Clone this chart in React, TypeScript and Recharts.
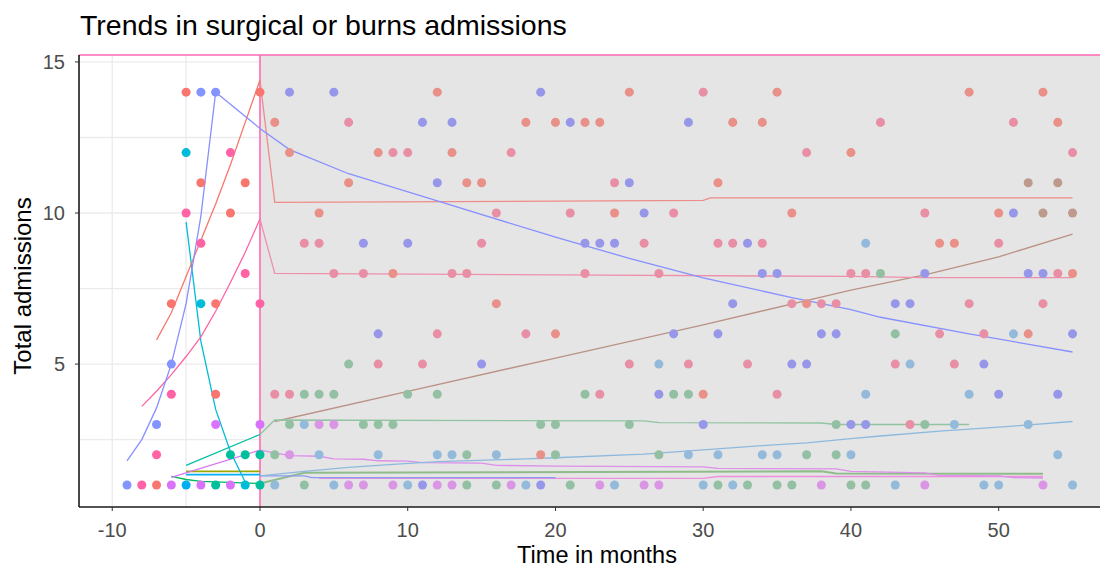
import React from 'react';
import {
  ComposedChart,
  Line,
  Scatter,
  XAxis,
  YAxis,
  ReferenceArea,
  ReferenceLine,
} from 'recharts';

type Pt = [number, number];

const X_MIN = -12.25;
const X_MAX = 57.4;
const Y_MIN = 0.27;
const Y_MAX = 15.23;

const X_TICKS = [-10, 0, 10, 20, 30, 40, 50];
const Y_TICKS = [5, 10, 15];
const GRID_X = [-10, -5];
const GRID_Y = [2.5, 5, 7.5, 10, 12.5, 15];

// ---- points before the intervention (x <= 0) ----
const PRE_SALMON: Pt[] = [[-7, 1], [-6, 7], [-5, 14], [-4, 11], [-3, 7], [-3, 4], [-2, 10], [-1, 11], [0, 14]];
const PRE_BLUE: Pt[] = [[-9, 1], [-7, 3], [-6, 5], [-4, 14], [-3, 14]];
const PRE_PINK: Pt[] = [[-8, 1], [-7, 2], [-6, 4], [-5, 10], [-4, 9], [-2, 12], [-1, 8], [0, 7]];
const PRE_VIOLET: Pt[] = [[-6, 1], [-4, 1], [-3, 3], [-2, 1], [0, 3]];
const PRE_CYAN: Pt[] = [[-5, 12], [-4, 7], [-1, 1]];
const PRE_SKY: Pt[] = [[-5, 1]];
const PRE_TEAL: Pt[] = [[-3, 1], [-2, 2], [-1, 2], [0, 2], [0, 1]];

// ---- points after ----
const POST_SALMON: Pt[] = [
  [12, 14], [25, 14], [35, 14], [48, 14], [53, 14],
  [1, 13], [18, 13], [20, 13], [22, 13], [23, 13], [32, 13], [34, 13], [54, 13],
  [2, 12], [8, 12], [13, 12], [40, 12],
  [6, 11], [14, 11], [15, 11], [31, 11],
  [4, 10], [24, 10], [36, 10], [50, 10],
  [46, 9], [47, 9], [9, 8], [55, 8], [16, 7], [37, 7], [20, 6], [52, 6], [30, 4], [19, 2],
];
const POST_PINK: Pt[] = [
  [30, 14], [6, 13], [42, 13], [51, 13],
  [9, 12], [10, 12], [17, 12], [37, 12], [55, 12], [24, 11],
  [16, 10], [21, 10], [28, 10], [45, 10],
  [3, 9], [4, 9], [15, 9], [26, 9], [31, 9], [32, 9], [34, 9], [50, 9],
  [5, 8], [7, 8], [13, 8], [14, 8], [22, 8], [27, 8], [40, 8], [41, 8], [54, 8],
  [36, 7], [38, 7], [39, 7], [48, 7], [53, 7],
  [12, 6], [18, 6], [46, 6], [49, 6],
  [8, 5], [11, 5], [25, 5], [29, 5], [33, 5], [43, 5], [47, 5],
  [1, 4], [2, 4], [23, 4], [35, 4], [44, 3],
];
const POST_BLUE: Pt[] = [
  [2, 14], [5, 14], [19, 14], [11, 13], [13, 13], [21, 13], [29, 13],
  [12, 11], [25, 11], [26, 10], [51, 10],
  [7, 9], [10, 9], [22, 9], [23, 9], [24, 9], [33, 9],
  [34, 8], [35, 8], [45, 8], [52, 8], [53, 8],
  [32, 7], [43, 7], [44, 7],
  [8, 6], [28, 6], [31, 6], [38, 6], [39, 6], [55, 6],
  [15, 5], [36, 5], [37, 5], [49, 5], [27, 4], [50, 4], [54, 4],
  [30, 3], [40, 3], [41, 3], [11, 1], [19, 1],
];
const POST_GREEN: Pt[] = [
  [42, 8], [43, 6], [6, 5],
  [3, 4], [4, 4], [5, 4], [10, 4], [12, 4], [22, 4], [28, 4], [29, 4],
  [2, 3], [7, 3], [8, 3], [9, 3], [19, 3], [20, 3], [25, 3], [39, 3], [45, 3],
  [1, 2], [14, 2], [20, 2], [27, 2], [37, 2], [39, 2],
  [3, 1], [14, 1], [16, 1], [21, 1], [31, 1], [33, 1], [35, 1], [36, 1], [40, 1], [41, 1],
];
const POST_LIGHTBLUE: Pt[] = [
  [41, 9], [51, 6], [27, 5], [44, 5], [41, 4], [48, 4], [3, 3], [47, 3], [52, 3],
  [4, 2], [8, 2], [12, 2], [13, 2], [16, 2], [29, 2], [31, 2], [34, 2], [35, 2], [40, 2], [54, 2],
  [1, 1], [5, 1], [10, 1], [18, 1], [24, 1], [30, 1], [32, 1], [43, 1], [49, 1], [50, 1], [55, 1],
];
const POST_VIOLET: Pt[] = [
  [4, 3], [5, 3], [2, 2],
  [6, 1], [7, 1], [9, 1], [12, 1], [13, 1], [17, 1], [23, 1], [26, 1], [27, 1], [38, 1], [45, 1], [53, 1],
];
const POST_BROWN: Pt[] = [[52, 11], [54, 11], [53, 10], [55, 10]];

// ---- fitted trend lines ----
const BLUE_LINE: Pt[] = [[-9, 1.8], [-8, 2.5], [-7, 3.55], [-6, 5.0], [-5, 7.0], [-4, 9.9], [-3, 14.0], [0, 12.8], [2, 12.1], [6, 11.3], [12, 10.4], [20, 9.2], [25, 8.5], [30, 7.85], [36, 7.2], [40, 6.8], [42, 6.55], [48, 6.0], [55, 5.4]];
const SALMON_PRE_LINE: Pt[] = [[-7, 5.8], [-6, 6.7], [-5, 7.9], [-4, 9.1], [-3, 10.3], [-2, 11.6], [-1, 13.0], [0, 14.4]];
const SALMON_POST_LINE: Pt[] = [[0, 14.4], [1, 10.35], [30, 10.42], [30.5, 10.5], [55, 10.5]];
const PINK_PRE_LINE: Pt[] = [[-8, 3.6], [-7, 4.1], [-6, 4.65], [-5, 5.25], [-4, 5.9], [-3, 6.75], [-2, 7.7], [-1, 8.7], [0, 9.8]];
const PINK_POST_LINE: Pt[] = [[0, 9.8], [1, 8.0], [20, 7.95], [40, 7.9], [45, 7.86], [55, 7.86]];
const CYAN_LINE: Pt[] = [[-5, 9.7], [-4, 5.75], [-3, 3.5], [-2, 2.1], [-1, 1.1]];
const TEAL_LINE: Pt[] = [[-5, 1.65], [0, 2.67]];
const GREEN_POST_LINE: Pt[] = [[0, 2.67], [1, 3.15], [26, 3.12], [27, 3.06], [38, 3.05], [39, 3.0], [48, 3.0]];
const BROWN_LINE: Pt[] = [[1, 3.1], [10, 4.1], [20, 5.2], [30, 6.3], [40, 7.45], [45, 7.95], [50, 8.55], [55, 9.3]];
const LIGHTBLUE_LINE: Pt[] = [[0, 1.3], [3, 1.45], [6, 1.58], [9, 1.68], [12, 1.77], [18, 1.86], [20, 1.9], [26, 2.02], [34, 2.3], [37, 2.39], [40, 2.53], [42, 2.62], [46, 2.78], [51, 2.95], [55, 3.1]];
const VIOLET_PRE_LINE: Pt[] = [[-6, 1.25], [0, 2.15]];
const VIOLET_POST_LINE: Pt[] = [[0, 2.15], [2, 1.97], [4, 1.95], [5, 1.86], [7, 1.85], [8, 1.8], [10, 1.79], [11, 1.74], [15, 1.72], [16, 1.65], [20, 1.62], [30, 1.6], [31, 1.55], [39, 1.53], [40, 1.45], [45, 1.4], [46, 1.32], [50, 1.3], [51, 1.24], [53, 1.23]];
const OLIVE_LINE: Pt[] = [[-5, 1.45], [0, 1.45]];
const SKY_LINE: Pt[] = [[-5, 1.34], [0, 1.34]];
const GREEN_PRE_LINE: Pt[] = [[-6, 1.28], [-5, 1.18], [-4, 1.12], [0, 1.05]];
const GREEN2_POST_LINE: Pt[] = [[0, 1.05], [3, 1.4], [38, 1.45], [39, 1.38], [53, 1.37]];
const MAGENTA_LINE: Pt[] = [[4, 1.22], [30, 1.22], [31, 1.28], [53, 1.28]];
const PERI_LINE: Pt[] = [[0, 1.3], [3, 1.3], [3.5, 1.24], [20, 1.24]];

const toXY = (pts: Pt[]) => pts.map(([x, y]) => ({ x, y }));

// lines drawn first, then points on top
const LINES: { pts: Pt[]; color: string; w?: number }[] = [
  { pts: GREEN2_POST_LINE, color: '#8FBC8A', w: 2 },
  { pts: MAGENTA_LINE, color: '#EE8FE0' },
  { pts: PERI_LINE, color: '#8C9BF0' },
  { pts: VIOLET_POST_LINE, color: '#DD8FEA' },
  { pts: LIGHTBLUE_LINE, color: '#8DB9DE' },
  { pts: BROWN_LINE, color: '#BA9285' },
  { pts: GREEN_POST_LINE, color: '#92C4A2' },
  { pts: PINK_POST_LINE, color: '#EE90AA' },
  { pts: SALMON_POST_LINE, color: '#EE8C88' },
  { pts: OLIVE_LINE, color: '#9CA700', w: 1.6 },
  { pts: SKY_LINE, color: '#00B0F6', w: 1.6 },
  { pts: GREEN_PRE_LINE, color: '#00B860' },
  { pts: VIOLET_PRE_LINE, color: '#D674F5' },
  { pts: TEAL_LINE, color: '#00BFA0' },
  { pts: CYAN_LINE, color: '#00BCD8' },
  { pts: PINK_PRE_LINE, color: '#FF62A5' },
  { pts: SALMON_PRE_LINE, color: '#F8766D' },
  { pts: BLUE_LINE, color: '#8790FF' },
];

const POINTS: { pts: Pt[]; color: string }[] = [
  { pts: POST_SALMON, color: '#E99088' },
  { pts: POST_PINK, color: '#E88FA6' },
  { pts: POST_BLUE, color: '#9797EA' },
  { pts: POST_GREEN, color: '#93C0A2' },
  { pts: POST_LIGHTBLUE, color: '#93BADA' },
  { pts: POST_VIOLET, color: '#DA96E4' },
  { pts: POST_BROWN, color: '#BE9A8E' },
  { pts: PRE_SALMON, color: '#F8766D' },
  { pts: PRE_BLUE, color: '#8494FF' },
  { pts: PRE_PINK, color: '#FF62A5' },
  { pts: PRE_VIOLET, color: '#DB72FB' },
  { pts: PRE_CYAN, color: '#00BCD8' },
  { pts: PRE_SKY, color: '#00AEF2' },
  { pts: PRE_TEAL, color: '#00BF9C' },
];

const FONT = '"Liberation Sans", Arial, sans-serif';
const PINK = '#FF69B4';

export default function App() {
  return (
    <div style={{ position: 'relative', width: 1100, height: 561, fontFamily: FONT }}>
      <div style={{ position: 'absolute', left: 72, top: 3, fontSize: 28.5, lineHeight: '28px', color: '#000', whiteSpace: 'nowrap' }}>
        Trends in surgical or burns admissions
      </div>
      <ComposedChart width={1100} height={561} margin={{ top: 47, right: 0, left: 0, bottom: 0 }}>
        <XAxis
          type="number" dataKey="x" domain={[X_MIN, X_MAX]} allowDataOverflow ticks={X_TICKS}
          height={62} tickSize={4} tickMargin={12}
          axisLine={{ stroke: '#1a1a1a', strokeWidth: 1.6 }} tickLine={{ stroke: '#333' }}
          tick={{ fill: '#4D4D4D', fontSize: 20, fontFamily: FONT }}
        />
        <YAxis
          type="number" dataKey="y" domain={[Y_MIN, Y_MAX]} allowDataOverflow ticks={Y_TICKS}
          width={71} tickSize={4} tickMargin={10}
          axisLine={{ stroke: '#1a1a1a', strokeWidth: 1.6 }} tickLine={{ stroke: '#333' }}
          tick={{ fill: '#4D4D4D', fontSize: 20, fontFamily: FONT }}
        />
        {GRID_X.map(v => (
          <ReferenceLine key={'gx' + v} x={v} stroke="#EBEBEB" strokeWidth={1.3} />
        ))}
        {GRID_Y.map(v => (
          <ReferenceLine key={'gy' + v} segment={[{ x: X_MIN, y: v }, { x: 0, y: v }]} stroke="#EBEBEB" strokeWidth={1.3} />
        ))}
        <ReferenceArea x1={0} x2={X_MAX} y1={Y_MIN} y2={Y_MAX} fill="#E5E5E5" fillOpacity={1} stroke="none" />
        <ReferenceLine y={Y_MAX} stroke={PINK} strokeWidth={1.6} />
        <ReferenceLine x={0} stroke={PINK} strokeWidth={1.6} />
        {LINES.map((l, i) => (
          <Line key={'l' + i} data={toXY(l.pts)} dataKey="y" type="linear" stroke={l.color}
            strokeWidth={l.w ?? 1.3} dot={false} activeDot={false} isAnimationActive={false} />
        ))}
        {POINTS.map((p, i) => (
          <Scatter key={'p' + i} data={toXY(p.pts)} fill={p.color} isAnimationActive={false} />
        ))}
      </ComposedChart>
      <div style={{ position: 'absolute', left: 589, top: 536, transform: 'translateX(-50%)', fontSize: 23.5, lineHeight: '23.5px', color: '#000', whiteSpace: 'nowrap' }}>
        Time in months
      </div>
      <div style={{ position: 'absolute', left: 14.5, top: 278, transform: 'translate(-50%, -50%) rotate(-90deg)', fontSize: 24, lineHeight: '24px', color: '#000', whiteSpace: 'nowrap' }}>
        Total admissions
      </div>
    </div>
  );
}
